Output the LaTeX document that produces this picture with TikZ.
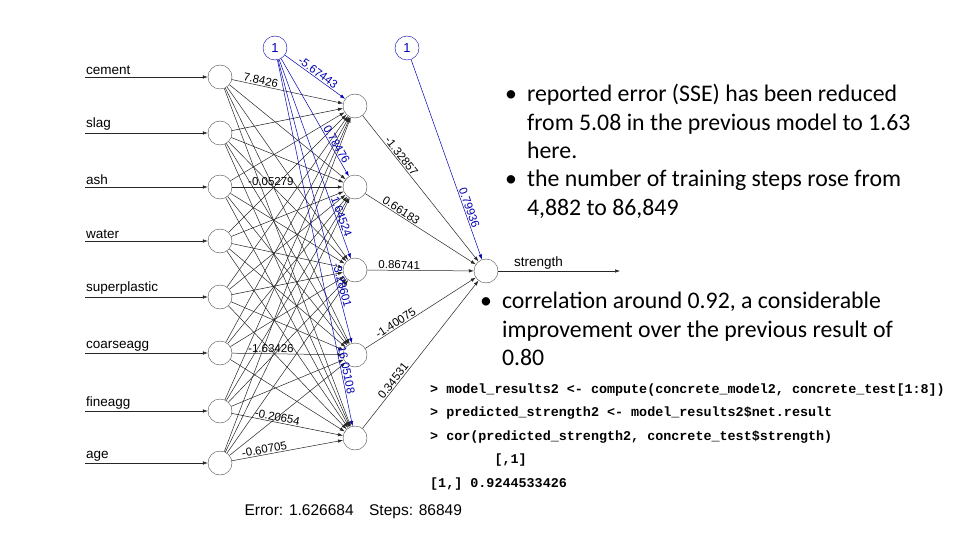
\documentclass[tikz,border=0pt]{standalone}
\usepackage{fontspec}
\setmainfont{Carlito}
\newfontfamily\arial{Liberation Sans}
\newfontfamily\cour{Liberation Mono}
\usetikzlibrary{arrows.meta}
\begin{document}
\begin{tikzpicture}[x=1pt,y=-1pt,
  neu/.style={circle,draw=black!70,fill=white,minimum size=24pt,inner sep=0pt},
  bia/.style={circle,draw=blue!70!black,fill=white,minimum size=24pt,inner sep=0pt,font=\arial\fontsize{13}{13}\selectfont,text=blue!70!black},
  ed/.style={draw=black!85,line width=0.5pt,-{Latex[length=5pt,width=3.5pt]}},
  bed/.style={draw=blue!70!black,line width=0.5pt,-{Latex[length=5pt,width=3.5pt]}},
  wl/.style={font=\arial\fontsize{11.5}{11.5}\selectfont,sloped,above,inner sep=1pt,pos=0.3},
  bwl/.style={wl,text=blue!70!black},
  lab/.style={font=\arial\fontsize{13.5}{13.5}\selectfont,anchor=south west,inner sep=1pt},
  bul/.style={anchor=north west,align=left,inner sep=0pt},
  code/.style={font=\cour\bfseries\fontsize{13.4}{13.4}\selectfont,anchor=west,inner sep=0pt}]
\useasboundingbox (0,0) rectangle (960,540);
\fill[white] (0,0) rectangle (960,540);
\foreach \n/\y/\t in {1/77/cement,2/133/slag,3/187/ash,4/241/water,5/297/superplastic,6/353/coarseagg,7/411/fineagg,8/463/age}{
  \node[neu] (i\n) at (220,\y) {};
  \coordinate (s\n) at (85,\y);
  \node[lab] (l\n) at (85,\y-1) {\t};
}
\foreach \n/\y in {1/106,2/187,3/270,4/355,5/438}{ \node[neu] (h\n) at (355,\y) {}; }
\node[neu] (o) at (486,271) {};
\coordinate (oe) at (620,271);
\node[bia] (b1) at (275,48) {1};
\node[bia] (b2) at (407,48) {1};
\foreach \n in {1,...,8}{ \draw[ed] (s\n) -- (i\n); }
\foreach \n in {1,...,8}{ \foreach \m in {1,...,5}{ \draw[ed] (i\n) -- (h\m); } }
\foreach \m in {1,...,5}{ \draw[ed] (h\m) -- (o); }
\draw[ed] (o) -- (oe) node[lab,pos=0.12,anchor=south west] {strength};
\draw[bed] (b1) -- (h1) node[bwl,pos=0.5] {-5.67443};
\draw[bed] (b1) -- (h2) node[bwl,pos=0.75] {0.78476};
\draw[bed] (b1) -- (h3) node[bwl,pos=0.8] {1.64524};
\draw[bed] (b1) -- (h4) node[bwl,pos=0.8] {-3.28601};
\draw[bed] (b1) -- (h5) node[bwl,pos=0.85] {16.05108};
\draw[bed] (b2) -- (o) node[bwl,pos=0.75] {0.79936};
\path (i1) -- (h1) node[wl,pos=0.25] {7.8426};
\path (i3) -- (h2) node[wl,pos=0.35] {-0.05279};
\path (i6) -- (h4) node[wl,pos=0.35] {-1.63426};
\path (i7) -- (h5) node[wl,pos=0.4] {-0.20654};
\path (i8) -- (h5) node[wl,pos=0.3] {-0.60705};
\path (h1) -- (o) node[wl,pos=0.3] {-1.32857};
\path (h2) -- (o) node[wl,pos=0.3] {0.66183};
\path (h3) -- (o) node[wl,pos=0.3] {0.86741};
\path (h4) -- (o) node[wl,pos=0.3] {-1.40075};
\path (h5) -- (o) node[wl,pos=0.3] {0.34531};
\node[font=\arial\fontsize{15.5}{15.5}\selectfont,anchor=west] (err) at (241,512) {Error: 1.626684\quad Steps: 86849};
\node[bul] (t1) at (505,84) {\fontsize{23.8}{28.5}\selectfont•\hspace{10pt}\parbox[t]{430pt}{\fontsize{23.8}{28.5}\selectfont reported error (SSE) has been reduced\\ from 5.08 in the previous model to 1.63\\ here.}};
\node[bul] (t2) at (505,170) {\fontsize{23.8}{28.5}\selectfont•\hspace{10pt}\parbox[t]{430pt}{\fontsize{23.8}{28.5}\selectfont the number of training steps rose from\\ 4,882 to 86,849}};
\node[bul] (t3) at (480,292) {\fontsize{23.8}{28.5}\selectfont•\hspace{10pt}\parbox[t]{450pt}{\fontsize{23.8}{28.5}\selectfont correlation around 0.92, a considerable\\ improvement over the previous result of\\ 0.80}};
\node[code] (c1) at (430,390) {> model\_results2 <- compute(concrete\_model2, concrete\_test[1:8])};
\node[code] (c2) at (430,413) {> predicted\_strength2 <- model\_results2\$net.result};
\node[code] (c3) at (430,437) {> cor(predicted\_strength2, concrete\_test\$strength)};
\node[code] (c4) at (430,460) {\phantom{[1,] 0.9}[,1]};
\node[code] (c5) at (430,484) {[1,] 0.9244533426};
\end{tikzpicture}
\end{document}
